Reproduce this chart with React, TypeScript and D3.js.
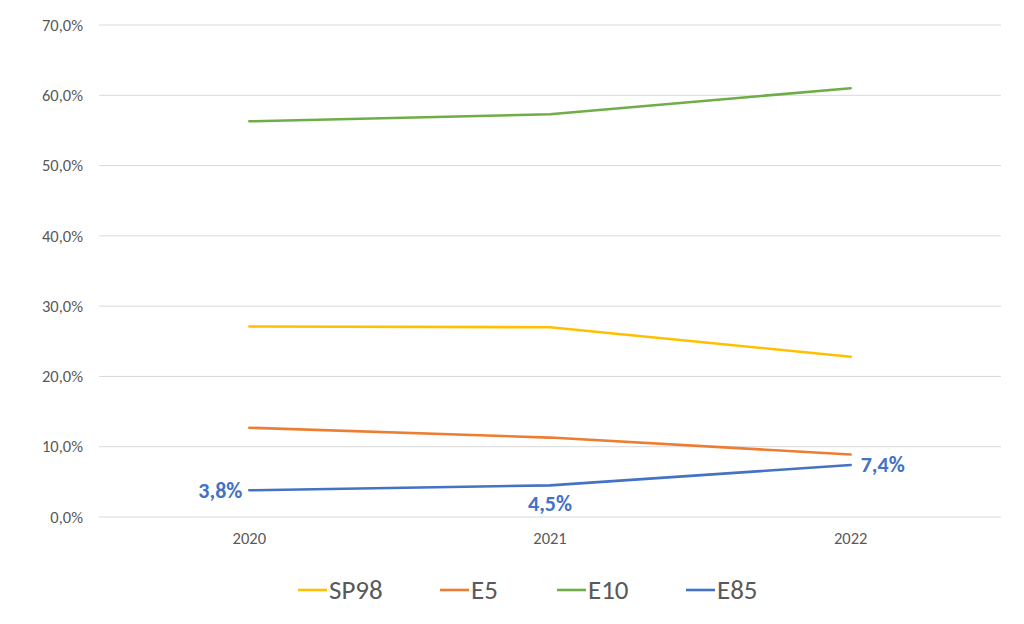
import * as d3 from "d3";

const years = ["2020", "2021", "2022"];
const sp98 = [27.1, 27.0, 22.8];
const e5 = [12.7, 11.3, 8.9];
const e10 = [56.3, 57.3, 61.0];
const e85 = [3.8, 4.5, 7.4];
const yTicks = [0, 10, 20, 30, 40, 50, 60, 70];

const series = [
  { name: "SP98", values: sp98, color: "#FFC000" },
  { name: "E5", values: e5, color: "#ED7D31" },
  { name: "E10", values: e10, color: "#70AD47" },
  { name: "E85", values: e85, color: "#4472C4" },
];

const W = 1024;
const H = 624;
const font = "Carlito, Calibri, 'Open Sans', sans-serif";
const fmt = (v: number) => v.toFixed(1).replace(".", ",") + "%";

export default function App() {
  const x = d3.scaleBand<string>().domain(years).range([99, 1001]);
  const y = d3.scaleLinear().domain([0, 70]).range([517, 25]);
  const cx = (d: string) => (x(d) ?? 0) + x.bandwidth() / 2;

  const line = d3
    .line<number>()
    .x((_, i) => cx(years[i]))
    .y((v) => y(v));

  // label placement for E85 points: left, below, right
  const labelPos = [
    { dx: -7, dy: 0, anchor: "end" },
    { dx: 0, dy: 18, anchor: "middle" },
    { dx: 10, dy: -1, anchor: "start" },
  ];

  const legendX = [298, 440, 557, 686];

  return (
    <svg
      width={W}
      height={H}
      style={{ position: "absolute", left: 0, top: 0, background: "#fff" }}
    >
      <g>
        {yTicks.map((t) => (
          <g key={t}>
            <line x1={99} x2={1001} y1={y(t)} y2={y(t)} stroke="#d9d9d9" strokeWidth={1} />
            <text
              x={83}
              y={y(t)}
              dy="0.35em"
              textAnchor="end"
              fontFamily={font}
              fontSize={16.5}
              fill="#595959"
            >
              {fmt(t)}
            </text>
          </g>
        ))}
        {years.map((yr) => (
          <text
            key={yr}
            x={cx(yr)}
            y={538.5}
            dy="0.35em"
            textAnchor="middle"
            fontFamily={font}
            fontSize={16.5}
            fill="#595959"
          >
            {yr}
          </text>
        ))}
      </g>
      {series.map((s) => (
        <path
          key={s.name}
          d={line(s.values) ?? ""}
          fill="none"
          stroke={s.color}
          strokeWidth={2.6}
          strokeLinecap="round"
        />
      ))}
      {e85.map((v, i) => (
        <text
          key={i}
          x={cx(years[i]) + labelPos[i].dx}
          y={y(v) + labelPos[i].dy}
          dy="0.35em"
          textAnchor={labelPos[i].anchor}
          fontFamily={font}
          fontSize={22}
          fontWeight="bold"
          fill="#4472C4"
        >
          {fmt(v)}
        </text>
      ))}
      {series.map((s, i) => (
        <g key={s.name} transform={`translate(${legendX[i]},590)`}>
          <line x1={0} x2={29} y1={0} y2={0} stroke={s.color} strokeWidth={2.6} />
          <text x={31} y={0} dy="0.33em" fontFamily={font} fontSize={27} fill="#595959">
            {s.name}
          </text>
        </g>
      ))}
    </svg>
  );
}
